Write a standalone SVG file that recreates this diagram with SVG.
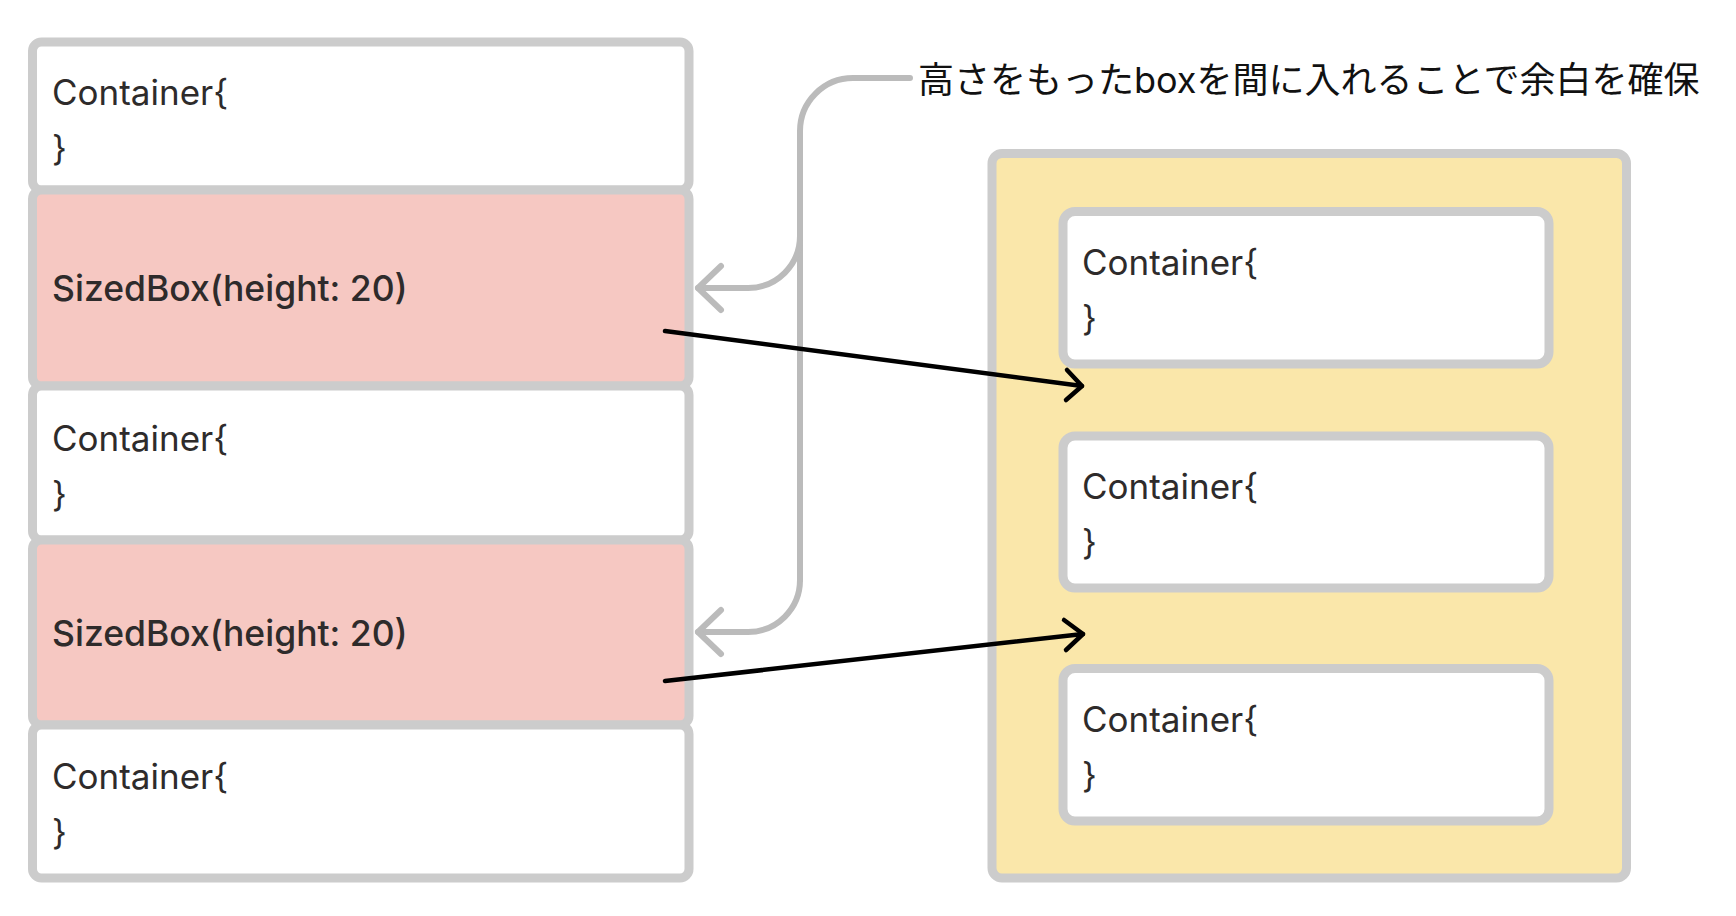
<svg xmlns="http://www.w3.org/2000/svg" width="1736" height="916" viewBox="0 0 1736 916">
  <defs>
    <style>
      .box { stroke: #cccccc; stroke-width: 9; }
      .white { fill: #ffffff; }
      .pink { fill: #f6c8c2; }
      .yellow { fill: #fae7aa; }
      .code { font-family: Inter, "Liberation Sans", sans-serif; font-size: 35px; fill: #2e2b2b; }
      .bold { font-weight: 500; font-size: 35.5px; }
      .label { font-family: Inter, "Noto Sans CJK JP", sans-serif; font-size: 36px; fill: #111111; }
      .bracket { fill: none; stroke: #bbbbbb; stroke-width: 6; stroke-linecap: round; stroke-linejoin: round; }
      .arrow { fill: none; stroke: #000000; stroke-width: 4.5; stroke-linecap: round; stroke-linejoin: round; }
    </style>
  </defs>
  <rect width="1736" height="916" fill="#ffffff"/>

  <g id="left-container-1">
    <rect class="box white" x="32.5" y="42" width="656.5" height="148" rx="9"/>
    <text class="code" x="52" y="105">Container{</text>
    <text class="code" x="52" y="160.5">}</text>
  </g>
  <g id="left-sizedbox-1">
    <rect class="box pink" x="32.5" y="190" width="656.5" height="196" rx="9"/>
    <text class="code bold" x="52" y="301">SizedBox(height: 20)</text>
  </g>
  <g id="left-container-2">
    <rect class="box white" x="32.5" y="386" width="656.5" height="154" rx="9"/>
    <text class="code" x="52" y="451">Container{</text>
    <text class="code" x="52" y="507">}</text>
  </g>
  <g id="left-sizedbox-2">
    <rect class="box pink" x="32.5" y="540" width="656.5" height="185" rx="9"/>
    <text class="code bold" x="52" y="646">SizedBox(height: 20)</text>
  </g>
  <g id="left-container-3">
    <rect class="box white" x="32.5" y="725" width="656.5" height="153" rx="9"/>
    <text class="code" x="52" y="789">Container{</text>
    <text class="code" x="52" y="844.5">}</text>
  </g>

  <g id="right-column">
    <rect class="box yellow" x="992" y="153.5" width="634.5" height="724.5" rx="10"/>
  </g>
  <g id="right-container-1">
    <rect class="box white" x="1063" y="211.5" width="486" height="152.5" rx="12"/>
    <text class="code" x="1082" y="275">Container{</text>
    <text class="code" x="1082" y="330.5">}</text>
  </g>
  <g id="right-container-2">
    <rect class="box white" x="1063" y="436" width="486" height="152" rx="12"/>
    <text class="code" x="1082" y="499">Container{</text>
    <text class="code" x="1082" y="554.5">}</text>
  </g>
  <g id="right-container-3">
    <rect class="box white" x="1063" y="668.5" width="486" height="152.5" rx="12"/>
    <text class="code" x="1082" y="732">Container{</text>
    <text class="code" x="1082" y="787.5">}</text>
  </g>

  <g id="label">
    <text class="label" x="918" y="93">高さをもったboxを間に入れることで余白を確保</text>
  </g>

  <g id="connectors">
    <path class="bracket" d="M910 78 H853 A53 53 0 0 0 800 131 V580"/>
    <path class="bracket" d="M800 236 A52 52 0 0 1 748 288 H698"/>
    <path class="bracket" d="M721 266 L698 288 L721 310"/>
    <path class="bracket" d="M800 580 A52 52 0 0 1 748 632 H698"/>
    <path class="bracket" d="M721 610 L698 632 L721 654"/>
    <path class="arrow" d="M665 331 L1082 386"/>
    <path class="arrow" d="M1067 370 L1082 386 L1066 400"/>
    <path class="arrow" d="M665 681 L1083 634"/>
    <path class="arrow" d="M1064 620 L1083 634 L1066 650"/>
  </g>
</svg>
